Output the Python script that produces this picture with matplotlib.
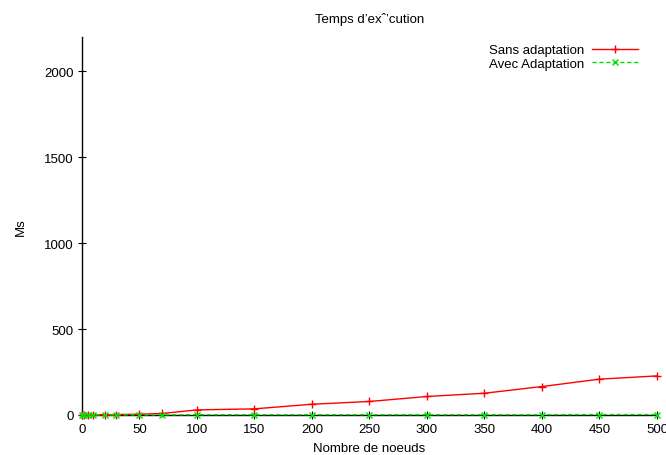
import matplotlib
matplotlib.use("Agg")
import matplotlib.pyplot as plt

plt.rcParams['font.family'] = ['Liberation Sans', 'DejaVu Sans']

nodes = [0, 2, 5, 10, 20, 30, 50, 70, 100, 150, 200, 250, 300, 350, 400, 450, 500]
sans_adaptation = [0, 0, 0, 1, 1, 2, 4, 8, 29, 35, 62, 78, 107, 126, 165, 208, 227]
avec_adaptation = [0, 0, 0, 0, 0, 0, 0, 0, 1, 1, 1, 1, 1, 1, 1, 2, 2]
xticks = [0, 50, 100, 150, 200, 250, 300, 350, 400, 450, 500]
yticks = [0, 500, 1000, 1500, 2000]

fig = plt.figure(figsize=(6.66, 4.56), dpi=100)
ax = fig.add_axes([0.123, 0.088, 0.8635, 0.8285])

ax.plot(nodes, sans_adaptation, color='#ff0000', lw=1, marker='+', ms=6, mew=1,
        label='Sans adaptation', clip_on=False, zorder=3)
ax.plot(nodes, avec_adaptation, color='#00e000', lw=1, ls=(0, (3, 2)), marker='x', ms=5, mew=1,
        label='Avec Adaptation', clip_on=False, zorder=4)

ax.set_xlim(0, 500)
ax.set_ylim(0, 2200)
ax.set_xticks(xticks)
ax.set_yticks(yticks)
ax.spines['top'].set_visible(False)
ax.spines['right'].set_visible(False)
ax.spines['left'].set_linewidth(1)
ax.spines['bottom'].set_linewidth(1)
ax.tick_params(direction='inout', length=6, width=0.8, labelsize=9.5, pad=3)

ax.set_xlabel('Nombre de noeuds', fontsize=9.5, labelpad=5)
ax.set_ylabel('Ms', fontsize=9.5, labelpad=12)
ax.set_title("Temps d\u2019ex\u02c6\u2019cution", fontsize=9.5, pad=11)

leg = ax.legend(loc='upper right', frameon=False, markerfirst=False, fontsize=9.5,
                handlelength=3.5, handletextpad=0.6, labelspacing=0.1,
                bbox_to_anchor=(0.976, 0.995), borderaxespad=0)

fig.savefig('out.png', dpi=100)
